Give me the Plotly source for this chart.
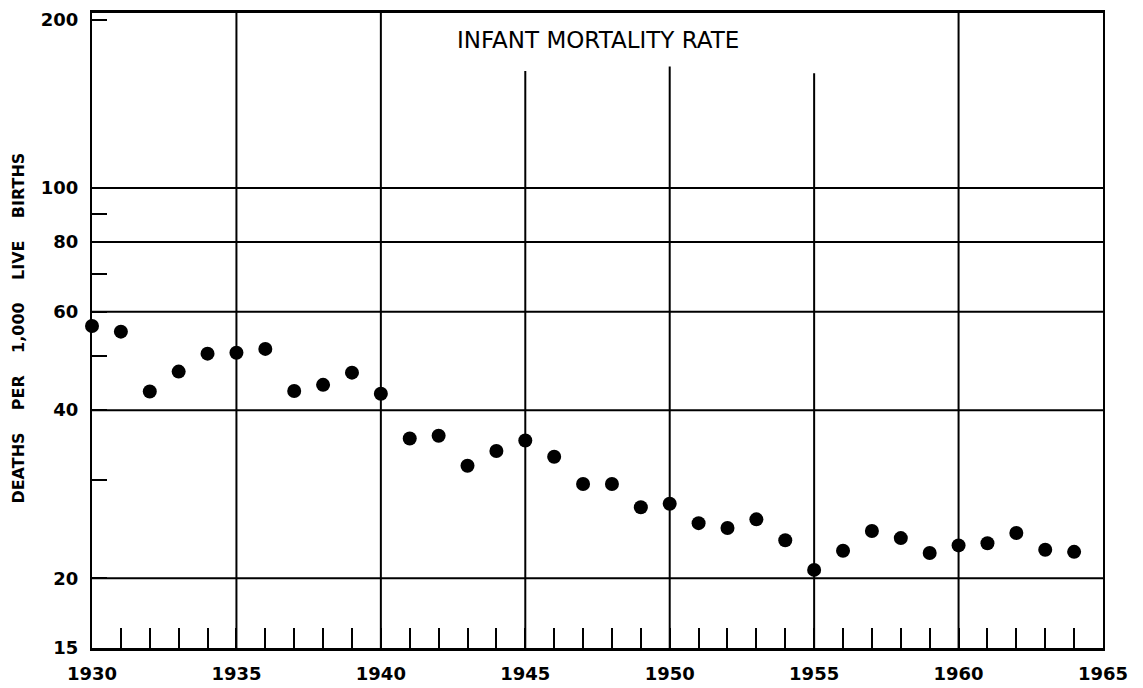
import math
import plotly.graph_objects as go

# ---- data ----
years = list(range(1930, 1965))
rates = [56.6, 55.3, 43.2, 46.9, 50.5, 50.7, 51.5, 43.3, 44.4, 46.7, 42.8,
         35.6, 36.0, 31.8, 33.8, 35.3, 33.0, 29.5, 29.5, 26.8, 27.2,
         25.1, 24.6, 25.5, 23.4, 20.7, 22.4, 24.3, 23.6, 22.2, 22.9,
         23.1, 24.1, 22.5, 22.3]

x_tick_years = list(range(1930, 1966))
x_tick_text = [str(y) if y % 5 == 0 else "" for y in x_tick_years]

y_tick_vals = [15, 20, 30, 40, 50, 60, 70, 80, 90, 100, 200]
y_tick_text = ["15", "20", "", "40", "", "60", "", "80", "", "100", "200"]

h_grid_vals = [20, 40, 60, 80, 100]
v_grid_full = [1935, 1940, 1960]
v_grid_partial = [1945, 1950, 1955]
v_grid_partial_top = [162, 165, 160.5]

x_min, x_max = 1930, 1965
y_min, y_max = 15, 205.8

title_text = "INFANT MORTALITY RATE"
ytitle_words = ["DEATHS", "PER", "1,000", "LIVE", "BIRTHS"]

fig = go.Figure()

# horizontal grid lines
hx, hy = [], []
for v in h_grid_vals:
    hx += [x_min, x_max, None]
    hy += [v, v, None]
fig.add_trace(go.Scatter(x=hx, y=hy, mode="lines",
                         line=dict(color="black", width=2),
                         hoverinfo="skip", showlegend=False))

# vertical grid lines
vx, vy = [], []
for v in v_grid_full:
    vx += [v, v, None]
    vy += [y_min, y_max, None]
for v, top in zip(v_grid_partial, v_grid_partial_top):
    vx += [v, v, None]
    vy += [y_min, top, None]
fig.add_trace(go.Scatter(x=vx, y=vy, mode="lines",
                         line=dict(color="black", width=2),
                         hoverinfo="skip", showlegend=False))

# data points
fig.add_trace(go.Scatter(x=years, y=rates, mode="markers",
                         marker=dict(color="black", size=14, line=dict(width=0)),
                         cliponaxis=False, showlegend=False))

tickfont = dict(family="DejaVu Sans", size=18, color="black", weight="bold")

fig.update_xaxes(range=[x_min, x_max], tickmode="array",
                 tickvals=x_tick_years, ticktext=x_tick_text,
                 ticks="inside", ticklen=20, tickwidth=2, tickcolor="black",
                 showline=True, linewidth=3, linecolor="black", mirror=True,
                 showgrid=False, zeroline=False, tickfont=tickfont,
                 ticklabelstandoff=7, automargin=False)
fig.update_yaxes(type="log", range=[math.log10(y_min), math.log10(y_max)],
                 tickmode="array", tickvals=y_tick_vals, ticktext=y_tick_text,
                 ticks="inside", ticklen=15, tickwidth=2, tickcolor="black",
                 showline=True, linewidth=2, linecolor="black", mirror=True,
                 showgrid=False, zeroline=False, tickfont=tickfont,
                 ticklabelstandoff=8, automargin=False)

nb = "\u00a0" * 4
fig.add_annotation(text=title_text, xref="paper", yref="paper",
                   x=0.5, y=0.9575, xanchor="center", yanchor="middle",
                   showarrow=False,
                   font=dict(family="DejaVu Sans", size=23, color="black"))
fig.add_annotation(text=nb.join(ytitle_words), xref="paper", yref="paper",
                   x=0, y=0.503, xshift=-73, xanchor="center", yanchor="middle",
                   textangle=-90, showarrow=False,
                   font=dict(family="DejaVu Sans", size=16, color="black",
                             weight="bold"))

fig.update_layout(width=1127, height=680,
                  margin=dict(l=84, r=32, t=5, b=40, autoexpand=False),
                  paper_bgcolor="white", plot_bgcolor="white")

fig.write_html("out.html")
